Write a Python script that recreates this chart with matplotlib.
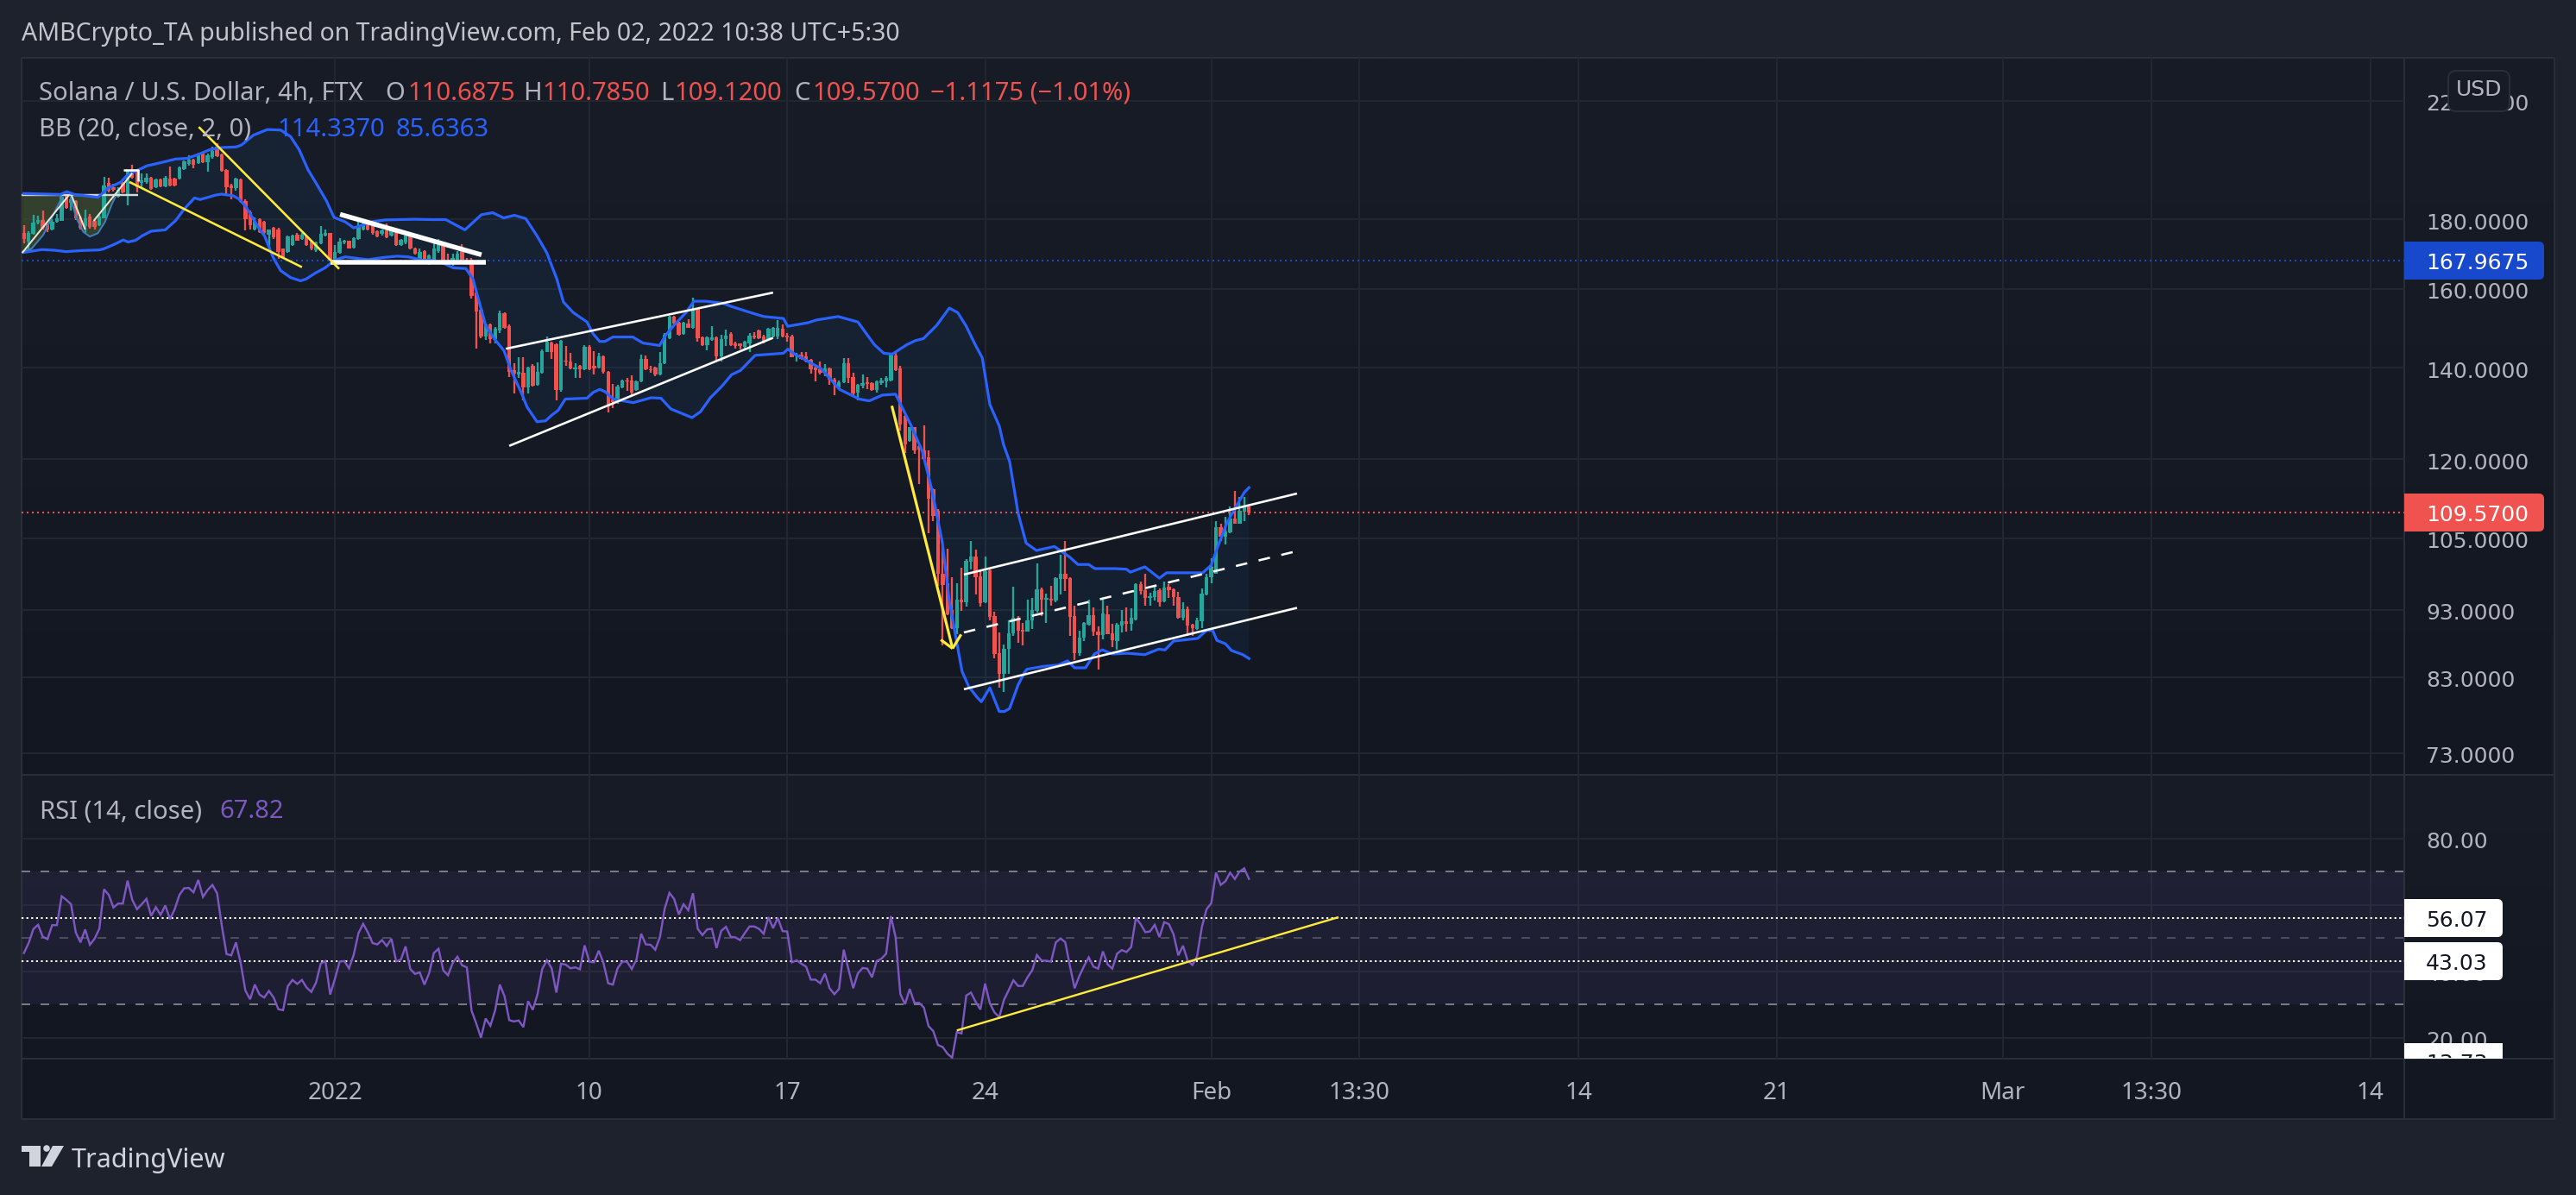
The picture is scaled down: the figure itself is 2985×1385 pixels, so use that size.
import numpy as np
import matplotlib
matplotlib.use("Agg")
import matplotlib.pyplot as plt
from matplotlib.patches import FancyBboxPatch, Rectangle, Polygon, Circle
from matplotlib.transforms import Bbox, TransformedBbox, ScaledTranslation

WIDTH, HEIGHT = 2985, 1385

# 4h OHLC candles, oldest first
opens = [
    175.8,173.3,175.5,178.9,179.8,178.5,177.0,179.2,179.6,187.3,
    185.0,185.5,180.6,178.0,180.9,179.6,178.3,180.4,191.4,190.0,
    187.0,191.3,187.5,195.7,195.0,191.3,191.6,193.2,190.0,192.5,
    190.4,192.8,192.8,192.7,195.9,197.6,199.0,197.8,201.5,198.1,
    200.0,203.5,200.7,195.7,190.6,189.7,192.5,185.7,182.2,177.0,
    180.0,179.2,175.3,177.4,177.0,171.2,170.2,172.4,175.3,174.1,
    174.9,173.2,170.8,172.8,175.1,175.8,168.1,170.0,173.0,173.5,
    171.6,174.1,176.8,179.2,178.3,176.4,175.5,176.6,175.1,176.6,
    172.4,173.0,176.0,171.4,167.1,170.6,167.1,
    168.1,170.6,172.1,168.1,166.9,168.1,171.0,168.1,168.1,159.0,
    154.4,147.6,150.6,147.0,149.2,153.6,150.3,139.4,138.4,138.9,
    135.5,140.4,136.0,138.9,143.9,146.2,145.6,134.9,141.8,141.5,
    139.7,140.4,139.7,145.1,140.4,140.0,142.8,139.0,132.8,132.1,
    135.5,137.0,137.0,134.9,136.8,142.2,139.7,140.0,138.5,141.0,
    147.3,152.6,151.1,148.3,151.0,149.8,154.7,147.4,145.5,146.7,
    147.4,142.7,146.9,148.3,146.0,145.9,145.0,146.0,147.9,149.2,
    147.7,147.0,147.7,147.6,149.6,147.9,147.6,142.7,143.2,142.8,
    142.0,140.0,139.7,138.9,139.9,137.3,135.5,136.6,141.1,137.9,
    134.2,135.9,136.7,136.5,134.9,136.5,136.9,137.0,143.0,139.9,
    129.0,123.7,126.6,122.7,121.8,120.4,
    114.0,110.0,98.9,97.2,92.9,90.2,94.6,94.2,100.8,101.7,
    98.4,94.2,99.4,92.0,86.4,83.5,87.1,89.4,91.8,89.8,
    89.6,91.4,92.8,96.3,94.6,94.8,94.4,98.0,98.9,98.1,
    92.0,86.4,88.7,90.7,92.1,89.6,89.1,92.3,89.4,88.2,
    90.6,91.2,90.8,91.5,97.1,96.2,94.9,95.0,96.2,94.3,
    96.7,96.3,95.0,91.8,93.1,90.7,90.0,91.2,95.4,98.3,
    98.9,106.9,105.2,106.0,108.5,107.6,109.8,110.6875,
]
highs = [
    178.1,176.4,181.3,181.1,182.6,178.7,180.0,181.5,187.8,187.7,
    186.8,185.9,181.1,182.9,181.5,179.8,181.3,193.4,193.0,191.1,
    190.0,191.6,195.7,197.3,195.3,194.6,194.6,193.5,192.8,192.8,
    193.7,196.7,193.2,196.7,198.8,200.5,199.5,201.3,201.7,201.0,
    203.5,204.7,201.2,195.9,191.1,193.0,192.8,186.1,182.6,180.6,
    180.2,179.4,177.0,177.7,177.4,171.4,175.1,175.3,175.8,176.0,
    175.1,173.5,173.2,177.9,177.0,176.0,172.4,174.3,173.8,173.7,
    174.5,179.2,179.4,179.8,178.5,176.6,176.8,178.7,177.0,176.8,
    174.1,175.8,176.2,171.6,171.4,170.8,169.5,
    172.7,174.0,172.9,169.7,169.8,170.6,172.5,168.7,168.5,159.2,
    154.6,150.9,151.0,150.0,154.3,153.8,150.6,141.0,142.5,142.5,
    140.3,140.8,141.2,144.5,147.6,146.4,146.0,146.7,145.3,143.5,
    141.1,140.6,145.4,145.4,144.0,143.5,143.0,139.3,136.3,136.0,
    137.3,137.7,138.2,137.0,143.2,142.9,140.4,140.2,143.9,148.5,
    152.9,152.8,151.3,151.3,152.1,157.6,154.9,147.6,147.6,150.3,
    147.6,148.1,149.4,148.7,146.3,146.0,146.6,148.4,148.7,149.4,
    148.1,149.9,150.1,151.7,150.7,148.5,148.0,143.5,143.8,143.8,
    142.2,140.2,141.5,140.8,140.0,137.7,137.1,142.3,142.3,138.9,
    136.2,138.4,137.8,136.7,137.1,137.6,138.1,143.4,143.5,140.4,
    129.2,126.7,126.7,122.8,127.0,121.8,
    114.2,110.3,103.6,103.1,98.3,97.2,99.8,101.3,104.5,103.0,
    99.3,101.7,99.6,92.7,89.5,87.7,91.3,96.7,92.0,91.0,
    94.6,94.9,100.6,96.5,95.6,96.9,98.3,102.0,104.5,98.3,
    93.6,89.8,91.1,94.6,93.3,90.4,94.6,93.6,90.8,91.0,
    93.0,93.4,93.2,97.2,97.6,98.9,95.7,96.7,96.4,97.6,
    97.1,96.4,95.8,94.2,93.5,90.8,91.8,96.4,98.9,101.5,
    108.1,107.6,108.9,110.7,113.7,112.6,112.6,110.785,
]
lows = [
    172.8,170.8,175.3,178.5,176.8,176.2,176.6,178.9,179.4,183.1,
    182.6,179.8,176.8,176.0,177.2,177.0,178.0,180.2,188.4,188.6,
    186.6,188.0,184.2,192.8,188.4,189.7,191.1,189.1,189.7,190.0,
    190.0,190.4,190.4,192.5,195.7,197.2,196.2,197.6,197.8,195.0,
    199.5,200.0,195.0,187.3,186.1,188.8,185.0,176.6,176.8,176.6,
    175.8,175.3,171.2,174.1,168.3,168.5,170.0,172.0,173.5,173.8,
    172.0,170.8,170.4,172.6,174.9,167.9,167.9,169.8,172.6,171.2,
    171.4,173.8,176.6,176.6,175.3,174.5,175.1,174.3,174.9,172.1,
    172.0,172.6,171.0,169.5,166.9,167.2,166.7,
    167.7,170.0,166.9,167.0,166.5,167.7,167.5,167.0,157.4,144.7,
    147.3,146.7,146.0,146.0,148.5,149.6,137.8,134.0,137.7,132.5,
    134.0,135.6,135.8,138.7,143.7,142.1,132.5,134.4,140.4,139.7,
    137.7,137.7,139.5,139.4,138.5,139.8,138.7,129.9,130.8,131.8,
    135.3,134.7,133.5,134.7,136.6,139.4,138.9,138.1,138.3,140.8,
    147.0,150.7,147.9,148.1,149.7,149.6,146.3,145.3,144.2,146.5,
    141.6,141.6,145.3,145.3,144.6,144.4,144.6,143.9,147.0,147.0,
    145.9,146.8,147.5,147.0,147.4,146.3,142.5,141.6,141.9,141.4,
    138.7,136.9,138.5,138.1,136.0,133.7,135.3,136.4,136.4,133.7,
    132.5,135.2,135.0,134.7,134.2,136.0,135.5,136.8,139.3,126.0,
    121.2,123.5,121.0,115.0,119.8,105.9,
    108.0,96.9,87.6,92.2,90.0,89.3,92.8,93.5,99.5,95.5,
    93.5,94.0,91.3,85.7,81.5,80.9,83.4,89.0,87.9,87.5,
    89.6,90.0,92.5,92.0,91.0,93.6,94.2,95.5,96.0,89.0,
    85.4,86.1,88.2,90.6,89.0,84.0,88.4,89.2,87.3,86.9,
    89.5,89.6,89.8,91.4,95.4,93.6,93.6,94.4,93.5,94.2,
    94.9,93.7,91.6,91.3,89.0,89.0,89.9,90.2,95.3,97.3,
    98.8,104.5,103.8,105.9,107.6,107.6,108.0,109.12,
]
closes = [
    174.1,175.8,178.9,179.8,177.4,176.8,179.2,180.2,186.9,183.5,
    186.1,180.2,177.4,180.2,177.7,177.6,180.9,190.6,188.8,189.1,
    189.1,188.4,195.3,193.1,190.0,192.2,193.2,189.5,192.5,190.4,
    193.0,190.6,190.6,196.5,198.6,199.0,197.4,200.8,198.1,200.5,
    202.0,200.3,195.3,190.0,189.7,192.7,185.3,180.0,178.3,179.6,
    176.2,175.8,176.8,174.5,170.4,168.7,174.9,175.1,173.7,175.3,
    172.4,171.2,173.0,175.5,175.8,168.1,170.4,173.2,173.5,171.4,
    174.3,177.9,179.2,176.8,175.8,174.8,176.6,174.5,176.8,172.4,
    173.8,175.1,171.2,169.7,170.4,167.5,169.3,
    171.4,173.1,167.3,167.3,168.5,169.8,167.7,167.3,158.2,154.0,
    147.6,150.6,147.0,149.6,153.6,149.8,139.0,138.7,139.0,135.5,
    140.0,135.9,139.0,144.0,146.4,143.7,134.9,146.5,141.5,139.9,
    140.0,139.7,145.1,139.7,139.9,142.8,139.1,131.1,132.1,135.7,
    137.0,136.8,134.2,136.8,142.2,139.6,139.4,138.4,141.0,148.1,
    152.6,150.9,148.1,151.1,149.9,154.6,147.3,145.5,147.4,147.4,
    142.8,147.0,147.9,145.5,145.2,145.2,146.3,147.9,147.4,147.2,
    146.3,149.6,149.9,149.8,147.6,147.4,142.6,143.2,142.1,141.6,
    139.7,139.4,138.9,139.9,137.2,136.0,136.7,141.1,137.7,134.0,
    136.0,136.5,136.3,134.9,136.9,137.0,137.7,143.2,139.5,127.3,
    123.0,126.6,121.8,121.9,120.0,112.2,
    109.0,98.8,97.0,92.3,90.2,94.6,94.2,101.0,101.7,98.3,
    94.1,99.3,91.9,86.3,83.5,87.1,89.4,91.8,89.7,89.6,
    91.4,92.9,96.3,94.6,94.8,94.4,98.1,98.9,98.0,91.9,
    86.4,88.7,90.9,92.2,89.6,89.1,92.4,89.3,88.3,90.7,
    91.2,90.8,91.7,97.1,96.0,94.9,95.1,96.0,94.2,96.6,
    96.2,95.0,91.7,93.1,90.6,90.1,91.3,95.6,98.3,100.0,
    106.9,105.2,106.2,108.5,107.6,109.9,110.7,109.57,
]

# Bollinger band vertices as (bar number, price)
upper_bars = [0,7.75,9.1,10.7,15.7,16.6,17.8,20.6,21.8,23.6,26.1,29.1,32.2,34.6,37.1,39.5,41.9,45,46.2,48.7,51.7,54.5,56.6,58.4,60.3,62.1,64.2,65.8,68.2,70,71.2,73.7,76.7,82.8,86.5,
              89.5,93.6,97.1,99.5,101.8,104.1,106.5,108.9,111,113.1,114.5,116.6,119.5,120.8,122.2,123.3,125,129.2,131.4,134.9,136.3,138.3,140.5,142.2,144.7,148.2,150.2,154.8,157,161.2,162.1,166.4,168.2,172.8,177,180.5,182.5,184.3,187.4,189.2,190.9,193.7,196.4,198.2,200,201.9,203.4,205,207,207.9,209.2,211,212.7,214.9,218.7,221.9,223.7,226,227.3,231.7,234,234.8,237.9,241,242.5,250.2,252,253.3,255.2,256.9,259,260]
upper_vals = [188,187.7,188.6,187.7,186.8,188,189.7,191.7,193.7,195.2,197,198.1,199.3,199.5,200.9,202.5,203.2,203.4,204.1,207.5,209.5,209.3,207,202.5,195.7,191.1,185.7,180.6,179.2,177.4,177.9,179.2,179.8,180,179.9,
              179.9,176.8,181.4,182,180.4,181.2,180.2,175,170,162.7,156.5,153.7,151.3,148.3,146.4,146.4,147.5,147.5,146,145.4,148.1,150.9,153.7,156.7,156.7,156.2,155.3,153.5,152.7,152.2,150.2,151.1,151.8,152.7,151.3,145.6,143.5,143.3,145.6,146.6,147.1,150.4,154.9,153.7,150.2,145.6,142.4,131.6,126.9,123,119.5,109.5,104.1,102.8,103.5,101.7,100.4,100.4,99.7,99.7,99.6,99.1,100,98.1,99,99,100.3,103.3,107.5,110.2,113.4,114.337]
lower_bars = [0,1,3.8,6.5,9,12,16,16.9,19,21.1,22.1,23.7,25.2,27,30,32.2,34,36.2,37.4,40.7,41.9,44.4,45.6,47.1,49.6,51.1,52.9,54.5,56.6,58.7,59.9,61.8,63.9,66,68.2,70.6,73,76.1,79.2,81.6,84.7,86.5,
              89.2,91.1,93.8,95.3,96.3,98,99.8,101.9,103.4,105.7,106.8,108.9,110.7,112.1,113.4,114.9,119.5,120.8,122.2,123.3,125.1,129.3,133.1,135.2,137.3,141.8,143.6,145.7,148.2,150.2,152.1,155.2,161.2,162.1,163.6,169.2,173.1,174.8,177.3,179.4,182.2,185,186.5,188.2,190.7,192.7,194.9,196.4,197.7,199.1,200.5,202.3,203.2,205,207,208.1,209.2,211,212.4,212.9,216.3,219.5,221.5,223,225.3,227.2,228.9,231,234.2,237.9,240.8,242.2,244,249.1,251,252.3,253.2,255,256.3,258.7,260]
lower_vals = [170.2,170.4,171,170.8,170.4,170.7,170.9,171.2,172.4,173.8,173.2,173.7,175.1,176.4,176.8,179.6,183.1,186.6,186.1,187.5,187.8,187.3,186.3,183.9,177.9,174.9,168.7,165,163.1,162.2,162.7,164.3,165.8,168,168.9,168.5,168.1,168.7,169.1,168.9,167.9,168,
              167,165.8,165.6,162.7,158,150.4,147.1,144.1,139.4,133.9,131,127.8,128,129.3,130.3,132.8,133,134.3,135,134.5,132.8,132,133.1,133,130.6,128.7,130,133.1,135.8,138.4,139.4,143,143.5,144.5,143.3,139.8,135,134.1,132.8,132.4,133.7,133.9,130.7,127.2,121.5,113.9,104.3,94.4,89.1,83.8,81.7,80.2,79.6,81.5,78.3,78.3,78.7,81.9,83.7,84.1,84.5,84.7,85.3,84.3,84.3,86.3,86.9,86.3,86.4,86.2,87,86.9,88.2,88.6,89.8,89.8,88.3,87.8,86.8,86.2,85.6363]

# RSI(14), one reading per candle
rsi_values = [
    45.5,48.5,52.7,54.0,50.4,49.7,53.9,53.9,62.6,61.5,
    60.2,51.7,48.7,52.6,48.0,49.8,52.8,64.7,63.0,59.2,
    60.4,60.4,67.3,61.5,58.7,60.2,61.8,56.7,59.3,57.0,
    59.8,55.7,58.7,63.0,65.0,65.1,63.8,67.5,62.4,64.5,
    66.0,63.5,53.7,45.2,44.8,48.7,42.5,34.2,31.6,36.0,
    33.0,32.1,34.1,32.1,28.6,28.3,35.5,37.4,36.2,37.4,
    35.1,33.8,36.6,42.3,43.1,33.0,37.7,42.9,43.1,40.9,
    45.0,51.5,54.3,51.7,48.5,48.1,49.4,47.6,49.8,43.0,
    43.5,47.5,40.7,39.2,39.7,36.0,39.4,45.5,46.8,40.3,
    38.8,42.5,
    44.4,41.8,41.2,28.2,24.3,20.0,25.8,23.6,28.2,36.0,
    32.5,25.3,24.9,25.2,23.2,31.0,28.4,33.1,40.7,43.3,
    40.9,33.6,42.3,42.0,40.9,41.2,40.6,47.8,42.9,42.7,
    46.2,42.5,36.4,36.0,40.9,42.9,42.9,40.7,43.5,51.3,
    48.1,48.0,46.5,50.4,58.9,63.6,61.8,57.1,60.2,58.4,
    63.5,52.8,50.9,52.6,52.8,47.0,52.2,53.4,50.4,50.2,
    49.4,51.5,53.5,53.5,52.8,51.3,56.3,53.0,56.1,52.1,
    52.0,42.7,43.3,42.3,41.4,37.5,37.5,36.4,39.3,34.9,
    33.1,34.7,46.5,40.6,34.9,39.4,41.0,
    40.8,38.2,43.1,43.8,45.3,56.6,50.3,33.2,30.1,34.7,
    30.5,30.5,29.1,23.5,22.0,17.8,17.2,15.2,14.0,21.7,
    21.3,32.7,33.6,30.8,28.5,36.3,30.4,27.6,26.2,31.4,
    34.3,37.3,35.6,35.6,38.2,40.3,44.9,43.2,43.2,42.9,
    48.7,49.9,48.8,41.6,34.9,38.6,41.6,44.2,41.4,40.8,
    46.0,42.1,40.8,45.3,46.4,45.8,47.3,56.1,54.2,51.8,
    52.0,54.0,50.3,54.8,54.2,51.1,44.8,47.7,43.2,41.9,
    44.6,53.3,58.7,60.5,69.7,66.0,67.1,69.7,67.8,70.0,
    71.0,67.82,
]

price_ticks = [220, 180, 160, 140, 120, 105, 93, 83, 73]
rsi_ticks = [80, 60, 40, 20]
time_ticks = [66, 120, 162, 204, 252, 283.4, 330, 372, 420, 451.6, 498]
time_labels = ["2022", "10", "17", "24", "Feb", "13:30", "14", "21", "Mar", "13:30", "14"]

symbol_line = "Solana / U.S. Dollar, 4h, FTX"
ohlc_open, ohlc_high, ohlc_low, ohlc_close = "110.6875", "110.7850", "109.1200", "109.5700"
change_text = "\u22121.1175 (\u22121.01%)"
last_price = 109.57
marked_price = 167.9675
rsi_level_high = 56.07
rsi_level_low = 43.03
rsi_level_third = 13.73

# Hand-drawn annotations as ((bar, price), (bar, price))
white_trend = [((102.3, 144.6), (159, 159.0)), ((103, 122.7), (159, 147.3)),
               ((199.5, 98.7), (270.2, 113.2)), ((199.5, 81.3), (270.2, 93.3))]
white_mid = ((199.5, 89.5), (270.2, 102.7))
white_heavy = [((67.1, 181.5), (97.1, 169.5)), ((65, 167.3), (98, 167.3))]
yellow_trend = [((37.1, 210.4), (66.9, 165.5)), ((22.4, 191.7), (59, 166.0))]
yellow_arrow = [((184.2, 131.3), (197.1, 87.1)), ((194.6, 88.4), (197.1, 87.1)), ((198.9, 89.2), (197.1, 87.1))]
cup_top_line = ((-0.5, 187.6), (24.3, 187.6))
cup_step = [(21.1, 195.7), (24.2, 195.7), (24.2, 191.9)]
cup_zigzag = [[(-0.4, 170.0), (9.5, 187.4)], [(10.1, 187.4), (13.0, 176.9)], [(14.8, 179.5), (23.0, 194.6)]]
cup_left = [(-0.4, 170.4), (1.6, 171.2), (4.1, 175.3), (6.5, 182.2), (8.1, 186.9)]
cup_right = [(9.9, 186.9), (11.1, 180.4), (12.6, 176.2), (14, 174.8), (15.7, 175.8), (17.2, 179.2), (18.7, 184.8), (19.4, 186.9)]
rsi_trend = ((198, 22.2), (279, 56.3))

FIG_BG = "#1e222d"
BORDER = "#2a2e39"
GRID = "#22262f"
AXIS_TEXT = "#b2b5be"
UP, DOWN = "#26a69a", "#ef5350"
BB_BLUE = "#2962ff"
PURPLE = "#7e57c2"
YELLOW = "#ffeb3b"
SANS = ["Noto Sans", "DejaVu Sans"]
PX = 72 / 100  # points per pixel at dpi 100

plt.rcParams["font.family"] = ["DejaVu Sans"]
fig = plt.figure(figsize=(WIDTH / 100, HEIGHT / 100), dpi=100, facecolor=FIG_BG)


def px_axes(zorder):
    a = fig.add_axes([0, 0, 1, 1], zorder=zorder)
    a.set_axis_off()
    return a


def frame(left, top, right, bottom):
    return [left / WIDTH, 1 - bottom / HEIGHT, (right - left) / WIDTH, (bottom - top) / HEIGHT]


# Panel background with per-pane shading
bg = px_axes(0)
shade = np.array([[0x18, 0x1c, 0x27], [0x13, 0x17, 0x22]]) / 255
ramp = np.linspace(shade[0], shade[1], 256)[:, None, :]
bg.imshow(ramp, extent=[25, 2960, 898, 67], aspect="auto", interpolation="bilinear")
bg.imshow(ramp, extent=[25, 2960, 1227, 899], aspect="auto", interpolation="bilinear")
bg.add_patch(Rectangle((25, 1227), 2935, 70, color=shade[1], lw=0))
for (x0, y0, x1, y1) in [(25, 67, 2960, 67), (25, 898, 2960, 898), (25, 1227, 2960, 1227),
                         (25, 1297, 2960, 1297), (25, 67, 25, 1297), (2786, 67, 2786, 1297),
                         (2960, 67, 2960, 1297)]:
    bg.plot([x0, x1], [y0, y1], color=BORDER, lw=2 * PX, solid_capstyle="butt")
bg.set_xlim(0, WIDTH)
bg.set_ylim(HEIGHT, 0)

# Price pane
ax = fig.add_axes(frame(25, 67, 2786, 898), zorder=1)
ax_rsi = fig.add_axes(frame(25, 899, 2786, 1227), zorder=1)
for a in (ax, ax_rsi):
    a.patch.set_alpha(0)
    for s in a.spines.values():
        s.set_visible(False)
    a.set_xlim(-0.5, 505.2)
    a.set_xticks(time_ticks)
    a.grid(True, color=GRID, lw=2 * PX)
    a.set_axisbelow(True)
    a.yaxis.tick_right()
    a.tick_params(axis="both", length=0, colors=AXIS_TEXT)

ax.set_yscale("log")
ax.set_ylim(70.35, 236.5)
ax.minorticks_off()
ax.set_yticks(price_ticks)
ax.set_yticklabels([f"{v:.4f}" for v in price_ticks], fontsize=18, color=AXIS_TEXT)
ax.tick_params(axis="y", pad=25 * PX)
ax.tick_params(axis="x", labelbottom=False)

bars = np.arange(len(closes))
o, h, l, c = map(np.array, (opens, highs, lows, closes))
candle_colors = [UP if ci >= oi else DOWN for oi, ci in zip(o, c)]

# Band fill and cup shading sit under the candles
ax.fill(np.r_[upper_bars, lower_bars[::-1]], np.r_[upper_vals, lower_vals[::-1]],
        color="#2196f3", alpha=0.06, lw=0, zorder=2)
for cup in (cup_left, cup_right):
    xs, ys = zip(*cup)
    ax.fill(list(xs) + [xs[-1], xs[0]], list(ys) + [187.3, 187.3], color="#4c5a2c", alpha=0.55, lw=0, zorder=2.1)
    ax.plot(xs, ys, color="#3f7fb5", lw=2 * PX, zorder=4.5)

ax.vlines(bars, l, h, colors=candle_colors, lw=2.3 * PX, zorder=3)
ax.bar(bars, np.maximum(np.abs(c - o), 0.25), bottom=np.minimum(o, c), width=0.8,
       color=candle_colors, lw=0, zorder=3.1)

ax.plot(upper_bars, upper_vals, color=BB_BLUE, lw=3.2 * PX, zorder=4, solid_joinstyle="round")
ax.plot(lower_bars, lower_vals, color=BB_BLUE, lw=3.2 * PX, zorder=4, solid_joinstyle="round")

dotted = (0, (1, 2))
ax.axhline(marked_price, color="#1848cc", lw=2 * PX, ls=dotted, zorder=4.2)
ax.axhline(last_price, color="#f0504d", lw=2 * PX, ls=dotted, zorder=4.2)


def seg(axis, pts, **kw):
    xs, ys = zip(*pts)
    axis.plot(xs, ys, solid_capstyle="butt", **kw)


for line in white_trend:
    seg(ax, line, color="white", lw=2.6 * PX, zorder=5)
seg(ax, white_mid, color="white", lw=2.6 * PX, zorder=5, linestyle=(0, (5.2, 5.2)))
for line in white_heavy:
    seg(ax, line, color="white", lw=5.5 * PX, zorder=5)
for line in yellow_trend:
    seg(ax, line, color=YELLOW, lw=2.6 * PX, zorder=5)
for line in yellow_arrow:
    seg(ax, line, color=YELLOW, lw=3.2 * PX, zorder=5)
seg(ax, cup_top_line, color="#d8d8d8", lw=2.4 * PX, zorder=3.9)
seg(ax, cup_step, color="white", lw=2.6 * PX, zorder=5)
for line in cup_zigzag:
    seg(ax, line, color="#e8e8d4", lw=2 * PX, zorder=4.8)

# RSI pane
ax_rsi.set_ylim(13.7, 98.9)
ax_rsi.set_yticks(rsi_ticks)
ax_rsi.set_yticklabels([f"{v:.2f}" for v in rsi_ticks], fontsize=18, color=AXIS_TEXT)
ax_rsi.tick_params(axis="y", pad=25 * PX)
ax_rsi.set_xticklabels(time_labels, fontsize=20, color=AXIS_TEXT, family=SANS)
ax_rsi.tick_params(axis="x", pad=19)
ax_rsi.get_xticklabels()[0].set_fontweight("bold")

# Nudge the value labels a touch below their gridlines
nudge = ScaledTranslation(0, -2 / 100, fig.dpi_scale_trans)
for a in (ax, ax_rsi):
    for lab in a.get_yticklabels():
        lab.set_transform(lab.get_transform() + nudge)

ax_rsi.axhspan(30, 70, color=PURPLE, alpha=0.1, lw=0, zorder=1)
dash = (0, (5, 6))
ax_rsi.axhline(70, color="#787b86", lw=2 * PX, ls=dash, zorder=2)
ax_rsi.axhline(30, color="#787b86", lw=2 * PX, ls=dash, zorder=2)
ax_rsi.axhline(50, color="#787b86", alpha=0.5, lw=2 * PX, ls=dash, zorder=2)
white_dots = (0, (1.1, 1.7))
ax_rsi.axhline(rsi_level_high, color="white", lw=2 * PX, ls=white_dots, zorder=2.2)
ax_rsi.axhline(rsi_level_low, color="white", lw=2 * PX, ls=white_dots, zorder=2.2)
ax_rsi.plot(np.linspace(0, len(closes) - 1, len(rsi_values)), rsi_values, color=PURPLE,
            lw=2.4 * PX, zorder=3, solid_joinstyle="miter", clip_on=True)
seg(ax_rsi, rsi_trend, color=YELLOW, lw=2.4 * PX, zorder=4)

# Labels, price tags and page furniture
fg = px_axes(3)
fg.patch.set_alpha(0)


def tag(y0, y1, color, right):
    fg.add_patch(FancyBboxPatch((2792, y0 + 6), right - 2798, y1 - y0 - 12, boxstyle="round,pad=6,rounding_size=6",
                                facecolor=color, edgecolor="none", zorder=2))
    r = Rectangle((2786, y0), 20, y1 - y0, facecolor=color, edgecolor="none", zorder=2)
    fg.add_patch(r)
    return r


tag(280, 324, "#1848cc", 2948)
fg.text(2811, 302.5, f"{marked_price:.4f}", color="white", fontsize=18, va="center_baseline", zorder=3)
tag(572, 616, "#f0534f", 2948)
fg.text(2811, 594.5, f"{last_price:.4f}", color="white", fontsize=18, va="center_baseline", zorder=3)
tag(1042, 1086, "white", 2900)
fg.text(2811, 1064, f"{rsi_level_high:.2f}", color="#131722", fontsize=18, va="center_baseline", zorder=3)
tag(1092, 1136, "white", 2900)
fg.text(2811, 1114, f"{rsi_level_low:.2f}", color="#131722", fontsize=18, va="center_baseline", zorder=3)

# The third RSI tag runs off the bottom of its pane
fg.add_patch(Rectangle((2786, 1209), 114, 18, facecolor="white", edgecolor="none", zorder=2))
third = fg.text(2811, 1231, f"{rsi_level_third:.2f}", color="#131722", fontsize=18, va="center_baseline", zorder=3)
third.set_clip_box(TransformedBbox(Bbox([[2786, 1200], [2960, 1226]]), fg.transData))
third.set_clip_on(True)

# Currency button over the top tick
fg.add_patch(FancyBboxPatch((2842, 87), 61, 37, boxstyle="round,pad=5,rounding_size=9",
                            facecolor="#171b26", edgecolor=BORDER, lw=2 * PX, zorder=2))
fg.text(2873, 104, "USD", color=AXIS_TEXT, fontsize=18, ha="center", va="center", zorder=3)

fg.text(25, 40, "AMBCrypto_TA published on TradingView.com, Feb 02, 2022 10:38 UTC+5:30",
        color="#c2c5cc", fontsize=20.5, family=SANS, va="center")


def legend_text(x, y, s, color):
    fg.text(x, y, s, color=color, fontsize=21, family=SANS, va="center")


legend_text(45, 108, symbol_line, AXIS_TEXT)
for x, s, col in [(446, "O", AXIS_TEXT), (472, ohlc_open, DOWN), (606, "H", AXIS_TEXT), (628, ohlc_high, DOWN),
                  (765, "L", AXIS_TEXT), (781, ohlc_low, DOWN), (920, "C", AXIS_TEXT), (941, ohlc_close, DOWN),
                  (1078, change_text, DOWN)]:
    legend_text(x, 108, s, col)
legend_text(45, 150, "BB (20, close, 2, 0)", AXIS_TEXT)
legend_text(321, 150, f"{upper_vals[-1]:.4f}", BB_BLUE)
legend_text(459, 150, f"{lower_vals[-1]:.4f}", BB_BLUE)
legend_text(46, 941, "RSI (14, close)", AXIS_TEXT)
legend_text(254, 941, f"{rsi_values[-1]:.2f}", PURPLE)

# Wordmark with its small glyph
LOGO = "#d1d4dc"
fg.add_patch(Polygon([(25, 1328), (47, 1328), (47, 1352), (34, 1352), (34, 1335), (25, 1335)], color=LOGO, lw=0))
fg.add_patch(Circle((54, 1331), 3.8, color=LOGO, lw=0))
fg.add_patch(Polygon([(61, 1328), (74, 1328), (60, 1352), (48, 1352)], color=LOGO, lw=0))
fg.text(83, 1345, "TradingView", color=LOGO, fontsize=22, family=SANS, va="center")

fg.set_xlim(0, WIDTH)
fg.set_ylim(HEIGHT, 0)

fig.savefig("out.png", dpi=100, facecolor=FIG_BG)
